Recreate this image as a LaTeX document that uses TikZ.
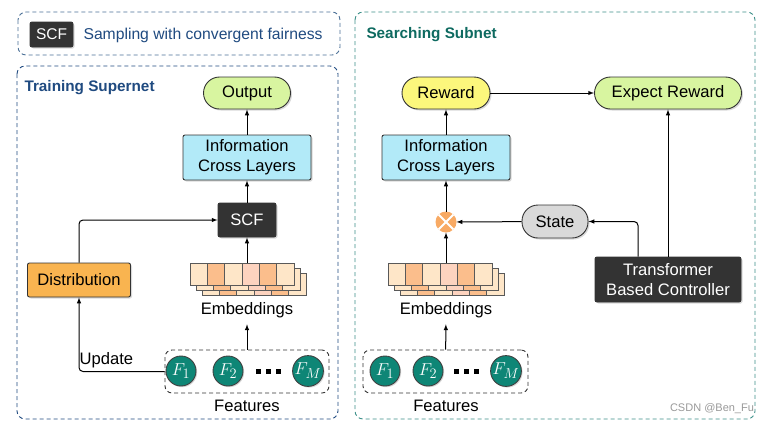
\documentclass[tikz,border=0pt]{standalone}
\usepackage{fontspec}
\setmainfont{Liberation Sans}
\usetikzlibrary{arrows,shadows}

\definecolor{outgreen}{HTML}{D8F5A0}
\definecolor{infoblue}{HTML}{B2EAF8}
\definecolor{rewyellow}{HTML}{FCF77C}
\definecolor{distorange}{HTML}{F9B450}
\definecolor{scfgray}{HTML}{333333}
\definecolor{featteal}{HTML}{0E8676}
\definecolor{embA}{HTML}{FEE6C8}
\definecolor{embB}{HTML}{FBBE8C}
\definecolor{embC}{HTML}{FDD3BF}
\definecolor{mixorange}{HTML}{F8AA64}
\definecolor{legendblue}{HTML}{4A6F96}
\definecolor{trainblue}{HTML}{1F4A80}
\definecolor{searchteal}{HTML}{3B8F88}
\definecolor{titleteal}{HTML}{0E6A60}

\tikzset{
	box/.style={draw=black!80, line width=0.9pt, rounded corners=2pt, align=center,
		drop shadow={shadow xshift=1.5pt, shadow yshift=-1.5pt, opacity=0.3}},
	pill/.style={box, rounded corners=16pt, minimum height=32pt},
	darkbox/.style={box, fill=scfgray, text=white},
	featnode/.style={circle, draw=black!75, line width=0.9pt, fill=featteal, text=white,
		minimum size=30pt, inner sep=0pt, font=\fontsize{19}{21}\selectfont,
		drop shadow={shadow xshift=1.2pt, shadow yshift=-1.2pt, opacity=0.3}},
	group/.style={dashed, dash pattern=on 4pt off 3pt, rounded corners=8pt, line width=0.9pt},
	featgroup/.style={draw=black!80, dashed, dash pattern=on 4pt off 3pt, rounded corners=7pt,
		line width=0.9pt, minimum width=164pt, minimum height=43pt},
	line/.style={-latex, line width=1pt},
}

\begin{document}
\begin{tikzpicture}[x=1pt, y=-1pt, font=\fontsize{16.6}{20}\selectfont]
	\useasboundingbox (0,0) rectangle (768,424);

	% containers
	\draw[group, draw=legendblue] (18,12) rectangle (340,55);
	\draw[group, draw=trainblue] (17,66) rectangle (338,419);
	\draw[group, draw=searchteal] (355,12) rectangle (755,419);

	\node[darkbox, minimum width=43pt, minimum height=25pt, font=\fontsize{15.5}{18}\selectfont] (legscf) at (51.5,34.5) {SCF};
	\node[anchor=west, text=trainblue, font=\fontsize{15.7}{18}\selectfont] (legtxt) at (80,35) {Sampling with convergent fairness};
	\node[anchor=west, text=trainblue, font=\fontsize{15.3}{18}\selectfont\bfseries] (traintitle) at (21,88) {Training Supernet};
	\node[anchor=west, text=titleteal, font=\fontsize{15.3}{18}\selectfont\bfseries] (searchtitle) at (363,35) {Searching Subnet};

	% training supernet
	\node[pill, fill=outgreen, minimum width=87pt] (outL) at (247,93) {Output};
	\node[box, fill=infoblue, minimum width=128pt, minimum height=45pt] (infoL) at (247,157.5) {Information\\Cross Layers};
	\node[darkbox, minimum width=58pt, minimum height=34pt] (scf) at (247,220) {SCF};
	\node[box, fill=distorange, minimum width=103pt, minimum height=34pt] (dist) at (79,280) {Distribution};

	% searching subnet
	\node[pill, fill=rewyellow, minimum width=88pt] (reward) at (446,93) {Reward};
	\node[pill, fill=outgreen, minimum width=147pt] (expect) at (668,93) {Expect Reward};
	\node[box, fill=infoblue, minimum width=128pt, minimum height=45pt] (infoR) at (446,157.5) {Information\\Cross Layers};
	\node[circle, fill=mixorange, minimum size=21pt, inner sep=0pt, outer sep=0pt] (mix) at (446,222) {};
	\draw[white, line width=2pt] (mix.45) -- (mix.225) (mix.135) -- (mix.315);
	\node[pill, fill=black!15, minimum width=66pt, minimum height=33pt] (state) at (555,221.5) {State};
	\node[darkbox, minimum width=146pt, minimum height=45pt] (ctrl) at (668,279.5) {Transformer\\Based Controller};

	% embeddings
	\foreach \ex in {190,388} {
		\foreach \k in {2,1,0} {
			\foreach \c [count=\i from 0] in {embA,embB,embA,embC,embB,embA}
				\draw[fill=\c, draw=black!65, line width=0.6pt] (\ex+6*\k+17.3*\i, 263+5*\k) rectangle ++(17.3,22);
		}
	}
	\coordinate (embtopL) at (247,263);
	\coordinate (embtopR) at (446,263);
	\node (embL) at (247,310) {Embeddings};
	\node (embR) at (446,310) {Embeddings};

	% features
	\node[featgroup] (featL) at (247,371.5) {};
	\node[featgroup, minimum width=165pt] (featR) at (445.5,371.5) {};
	\node[featnode] (fL1) at (181,371) {$F_1$};
	\node[featnode] (fL2) at (228,371) {$F_2$};
	\node[featnode] (fLM) at (308,371) {$F_M$};
	\node[featnode] (fR1) at (385,371) {$F_1$};
	\node[featnode] (fR2) at (428,371) {$F_2$};
	\node[featnode] (fRM) at (506,371) {$F_M$};
	\foreach \dx in {258,268,278,456,466,476}
		\fill (\dx-2.5,368.5) rectangle ++(5,5);
	\node (featlabL) at (247,406) {Features};
	\node (featlabR) at (446,406) {Features};

	\node[text=black!40, font=\fontsize{11}{13}\selectfont] (wm) at (712,409) {CSDN @Ben\_Fu};

	% connectors
	\draw[line] (infoL) -- (outL);
	\draw[line] (scf) -- (infoL);
	\draw[line] (embtopL) -- (scf);
	\draw[line, shorten >=3pt] (featL) -- (embL);
	\draw[line, rounded corners=4pt] (dist.north) |- (scf.west);
	\draw[line, rounded corners=4pt] (featL.west) -| node[pos=0.34, above] {Update} (dist.south);

	\draw[line] (infoR) -- (reward);
	\draw[line] (reward) -- (expect);
	\draw[line] (mix) -- (infoR);
	\draw[line] (embtopR) -- (mix);
	\draw[line, shorten >=3pt] (featR) -- (embR);
	\draw[line] (state) -- (mix);
	\draw[line, rounded corners=4pt] ([xshift=-30pt]ctrl.north) |- (state.east);
	\draw[line] (ctrl) -- (expect);
\end{tikzpicture}
\end{document}
